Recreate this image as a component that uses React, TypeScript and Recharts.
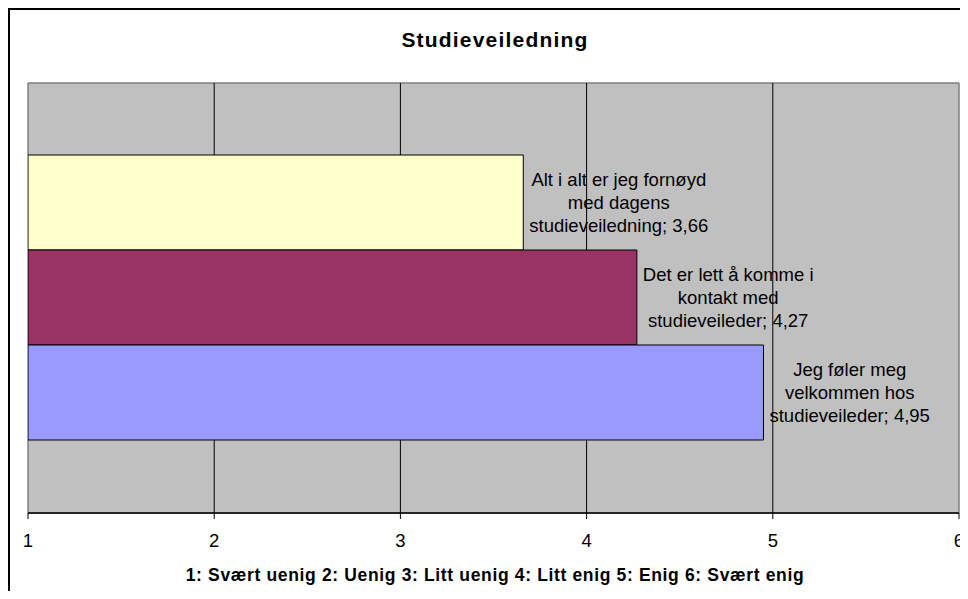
import React from 'react';
import { BarChart, Bar, XAxis, YAxis, CartesianGrid, LabelList } from 'recharts';

const categories = ['Studieveiledning'];
const seriesKeys = ['fornoyd', 'kontakt', 'velkommen'];
const seriesNames = [
  'Alt i alt er jeg fornøyd med dagens studieveiledning',
  'Det er lett å komme i kontakt med studieveileder',
  'Jeg føler meg velkommen hos studieveileder',
];
const seriesValues = [3.66, 4.27, 4.95];
const seriesColors = ['#FFFFCC', '#993366', '#9999FF'];
const labelNameLines = [
  ['Alt i alt er jeg fornøyd', 'med dagens', 'studieveiledning'],
  ['Det er lett å komme i', 'kontakt med', 'studieveileder'],
  ['Jeg føler meg', 'velkommen hos', 'studieveileder'],
];
const xTicks = [1, 2, 3, 4, 5, 6];
const chartTitle = 'Studieveiledning';
const axisTitle = '1: Svært uenig 2: Uenig 3: Litt uenig 4: Litt enig 5: Enig 6: Svært enig';

const data = categories.map((c) => {
  const row: any = { category: c };
  seriesKeys.forEach((k, i) => {
    row[k] = seriesValues[i];
  });
  return row;
});

const FONT = '"Liberation Sans", Arial, sans-serif';
const LABEL_SIZE = 18.5;
const LINE_H = 23.4;

let ctx: CanvasRenderingContext2D | null = null;
function textWidth(s: string, size: number): number {
  if (!ctx) ctx = document.createElement('canvas').getContext('2d');
  if (!ctx) return s.length * size * 0.5;
  ctx.font = `${size}px "Liberation Sans", Arial, sans-serif`;
  return ctx.measureText(s).width;
}

const fmt = (v: number) => v.toFixed(2).replace('.', ',');

const makeLabel = (idx: number) => (props: any) => {
  const vb = props.viewBox || {};
  const x = props.x ?? vb.x;
  const y = props.y ?? vb.y;
  const width = props.width ?? vb.width;
  const height = props.height ?? vb.height;
  const value = props.value;
  const name = labelNameLines[idx];
  const lines = [...name.slice(0, -1), `${name[name.length - 1]}; ${fmt(Number(value))}`];
  const maxW = Math.max(...lines.map((l) => textWidth(l, LABEL_SIZE)));
  const cx = x + width + 6 + maxW / 2;
  const cy = y + height / 2;
  const n = lines.length;
  return (
    <text fontFamily={FONT} fontSize={LABEL_SIZE} fill="#000" textAnchor="middle">
      {lines.map((l, i) => (
        <tspan key={i} x={cx} y={cy + 6.4 + (i - (n - 1) / 2) * LINE_H}>
          {l}
        </tspan>
      ))}
    </text>
  );
};

const interiorGen = (props: any) => {
  const xAxis = props.xAxis;
  const off = props.offset;
  const inner = xTicks.slice(1, -1);
  if (xAxis && typeof xAxis.scale === 'function') return inner.map((v) => xAxis.scale(v));
  return inner.map((v) => off.left + ((v - xTicks[0]) / (xTicks[xTicks.length - 1] - xTicks[0])) * off.width);
};
const edgeVGen = (props: any) => {
  const xAxis = props.xAxis;
  const off = props.offset;
  const edges = [xTicks[0], xTicks[xTicks.length - 1]];
  if (xAxis && typeof xAxis.scale === 'function') return edges.map((v) => xAxis.scale(v));
  return [off.left, off.left + off.width];
};
const edgeHGen = (props: any) => {
  const off = props.offset;
  return [off.top, off.top + off.height];
};

const W = 960;
const H = 583;

export default function App() {
  return (
    <div
      style={{
        position: 'relative',
        width: W,
        height: H,
        borderTop: '2px solid #000',
        borderLeft: '2px solid #000',
        boxSizing: 'border-box',
        background: '#fff',
      }}
    >
      <style>{`.recharts-surface { overflow: visible !important; } body { overflow: hidden; }`}</style>
      <div style={{ position: 'absolute', left: -2, top: -2 }}>
        <BarChart
          width={W}
          height={H}
          data={data}
          layout="vertical"
          margin={{ top: 75, right: 9, bottom: 28, left: 20 }}
          barCategoryGap={72}
          barGap={0}
        >
          <CartesianGrid
            horizontal={true}
            vertical={true}
            fill="#C0C0C0"
            fillOpacity={1}
            stroke="#808080"
            strokeWidth={1.5}
            verticalCoordinatesGenerator={edgeVGen}
            horizontalCoordinatesGenerator={edgeHGen}
          />
          <CartesianGrid
            horizontal={false}
            vertical={true}
            stroke="#000"
            strokeWidth={1}
            verticalCoordinatesGenerator={interiorGen}
          />
          <XAxis
            type="number"
            domain={[xTicks[0], xTicks[xTicks.length - 1]]}
            ticks={xTicks}
            allowDataOverflow
            height={50}
            tickSize={6}
            tickMargin={15}
            axisLine={{ stroke: '#000', strokeWidth: 1.5 }}
            tickLine={{ stroke: '#000' }}
            tick={{ fill: '#000', fontSize: LABEL_SIZE, fontFamily: FONT }}
            interval={0}
          />
          <YAxis type="category" dataKey="category" hide />
          {seriesKeys.map((k, i) => (
            <Bar
              key={k}
              dataKey={k}
              name={seriesNames[i]}
              fill={seriesColors[i]}
              stroke="#000"
              strokeWidth={1}
              isAnimationActive={false}
            >
              <LabelList dataKey={k} content={makeLabel(i)} />
            </Bar>
          ))}
        </BarChart>
      </div>
      <svg
        width={W}
        height={H}
        style={{ position: 'absolute', left: -2, top: -2, pointerEvents: 'none' }}
      >
        <text
          x={487}
          y={38.7}
          textAnchor="middle"
          fontFamily={FONT}
          fontWeight="bold"
          fontSize={21}
          letterSpacing={1.2}
          fill="#000"
        >
          {chartTitle}
        </text>
        <text
          x={487}
          y={573}
          textAnchor="middle"
          fontFamily={FONT}
          fontWeight="bold"
          fontSize={17.5}
          letterSpacing={0.65}
          fill="#000"
        >
          {axisTitle}
        </text>
      </svg>
    </div>
  );
}
